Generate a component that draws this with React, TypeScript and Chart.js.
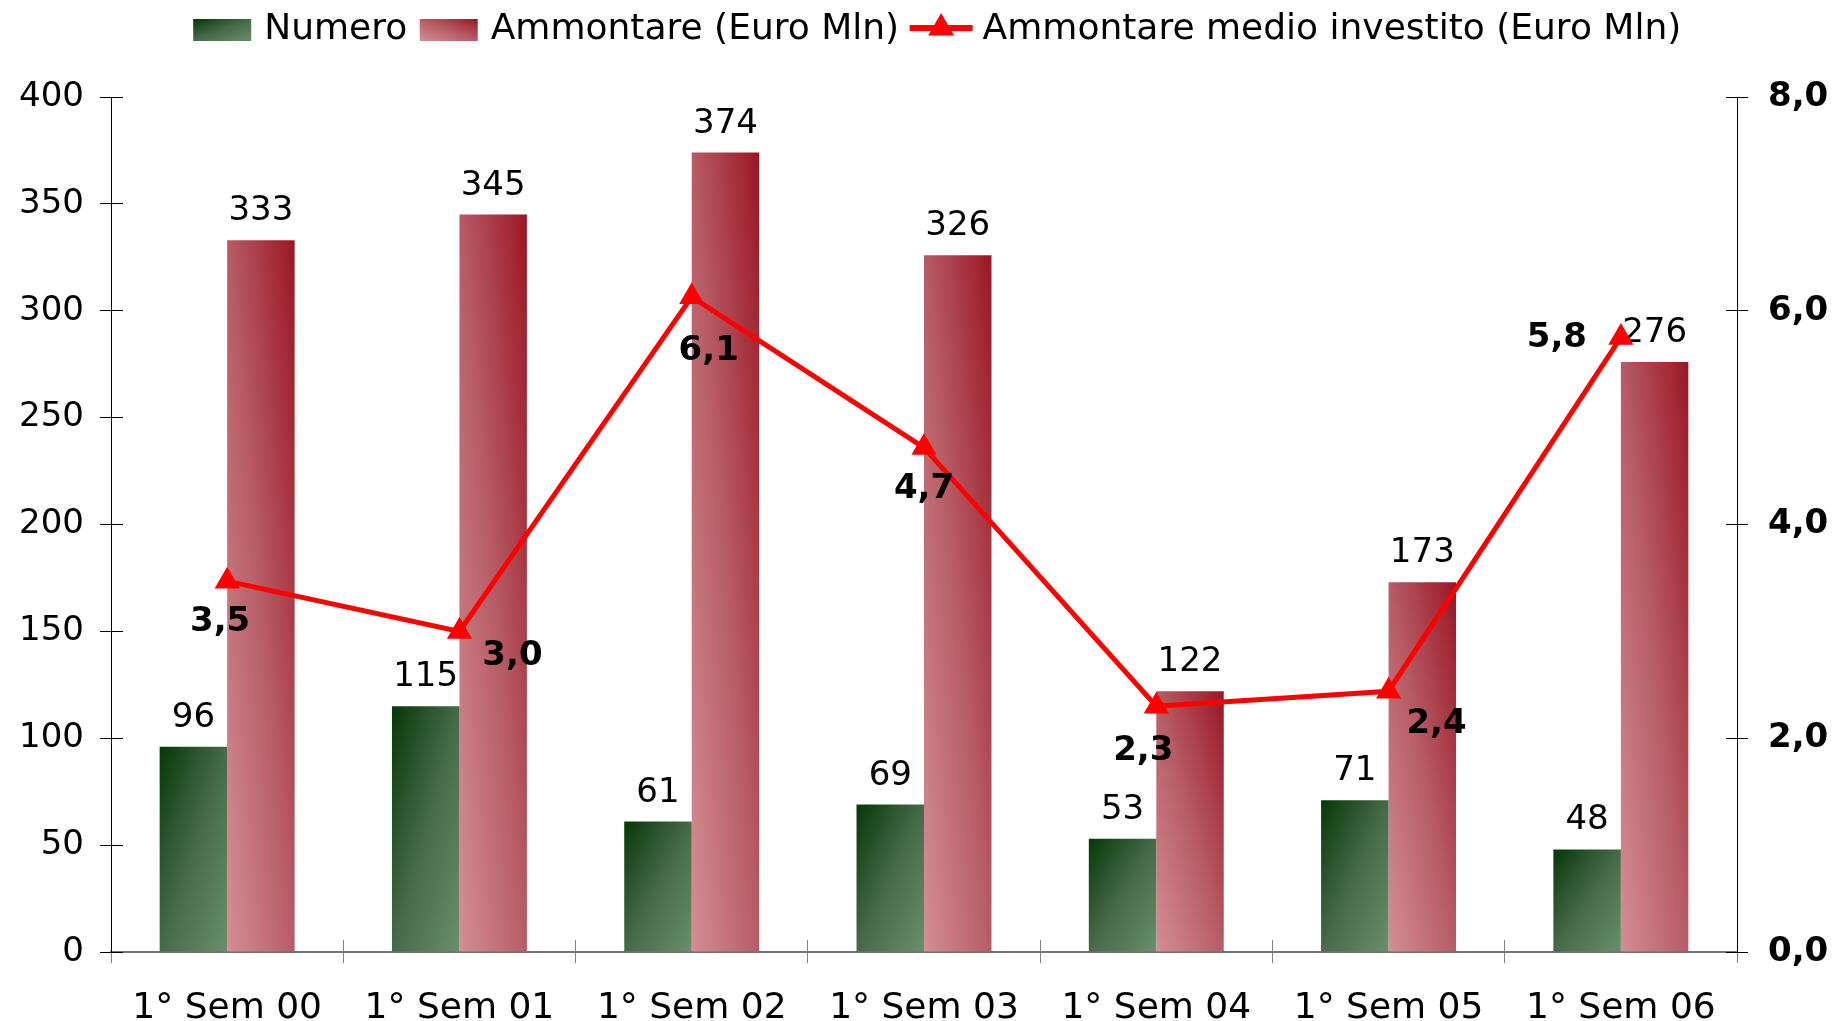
import React, { useEffect, useRef } from 'react';
import { Chart, registerables } from 'chart.js';

Chart.register(...registerables);

// ---------------- data ----------------
const categories = ['1° Sem 00', '1° Sem 01', '1° Sem 02', '1° Sem 03', '1° Sem 04', '1° Sem 05', '1° Sem 06'];
const numero = [96, 115, 61, 69, 53, 71, 48];
const ammontare = [333, 345, 374, 326, 122, 173, 276];
const ammontareMedio = [3.47, 3.0, 6.13, 4.72, 2.3, 2.44, 5.75];
const seriesNames = ['Numero', 'Ammontare (Euro Mln)', 'Ammontare medio investito (Euro Mln)'];
const leftAxisRange = [0, 400, 50];
const rightAxisRange = [0, 8, 2];

// ---------------- styles ----------------
const FONT = 'DejaVu Sans';
const GREEN_STOPS = ['#063808', '#476a48', '#6a8f6a'];
const RED_STOPS = ['#9a1724', '#b75c65', '#d48e94'];
const LINE_RED = '#ff0000';
const CAT_PCT = 0.581;
const LEGEND_FONT = 36;
const LEGEND_BOXW = 53.5;
const MEDIO_LABEL_OFFSETS = [[-7, 41], [53, 25], [17, 54], [0, 42], [-13, 45], [48, 33], [-64, 1]];

const fmt = (v: number) => Number(v).toFixed(1).replace('.', ',');

function diagGradient(c: CanvasRenderingContext2D, L: number, T: number, W: number, H: number, stops: string[], flip: boolean) {
  const d = W * W + H * H;
  const dx = (2 * W * H * H) / d;
  const dy = (2 * W * W * H) / d;
  const g = flip
    ? c.createLinearGradient(L + W, T, L + W - dx, T + dy)
    : c.createLinearGradient(L, T, L + dx, T + dy);
  stops.forEach((s, i) => g.addColorStop(i / (stops.length - 1), s));
  return g;
}

function barFill(ctx: any, side: number) {
  const stops = side === 0 ? GREEN_STOPS : RED_STOPS;
  const chart = ctx.chart;
  const xs = chart.scales && chart.scales.x;
  const ys = chart.scales && chart.scales.y;
  if (!xs || !ys || ctx.dataIndex == null) return stops[1];
  const v = ctx.dataset.data[ctx.dataIndex];
  const center = xs.getPixelForValue(ctx.dataIndex);
  const bw = (xs.width / categories.length) * CAT_PCT / 2;
  const L = side === 0 ? center - bw : center;
  const T = ys.getPixelForValue(v);
  const B = ys.getPixelForValue(0);
  if (![center, bw, T, B].every(Number.isFinite) || B - T <= 0 || bw <= 0) return stops[1];
  return diagGradient(chart.ctx, L, T, bw, B - T, stops, side === 1);
}

const align = (p: number) => Math.round(p - 0.5) + 0.5;

const decorPlugin = {
  id: 'decor',
  afterDatasetDraw(chart: any, args: any) {
    const meta = args.meta;
    if (meta.type !== 'bar') return;
    const data = chart.data.datasets[args.index].data;
    const c = chart.ctx;
    c.save();
    c.font = `34px "${FONT}"`;
    c.fillStyle = '#000';
    c.textAlign = 'center';
    c.textBaseline = 'alphabetic';
    meta.data.forEach((el: any, i: number) => c.fillText(String(data[i]), el.x, el.y - 20));
    c.restore();
  },
  afterDatasetsDraw(chart: any) {
    const meta = chart.getDatasetMeta(2);
    const c = chart.ctx;
    c.save();
    c.font = `bold 34px "${FONT}"`;
    c.fillStyle = '#000';
    c.textAlign = 'center';
    c.textBaseline = 'middle';
    meta.data.forEach((el: any, i: number) => {
      const off = MEDIO_LABEL_OFFSETS[i] || [0, 36];
      c.fillText(fmt(ammontareMedio[i]), el.x + off[0], el.y + off[1]);
    });
    c.restore();
  },
  afterDraw(chart: any) {
    const c = chart.ctx;
    const { x, y, y1 } = chart.scales;
    c.save();
    // inner tick parts
    c.lineWidth = 1;
    c.strokeStyle = '#000';
    y.ticks.forEach((_t: any, i: number) => {
      const py = align(y.getPixelForTick(i));
      c.beginPath(); c.moveTo(y.right, py); c.lineTo(y.right + 12, py); c.stroke();
    });
    y1.ticks.forEach((_t: any, i: number) => {
      const py = align(y1.getPixelForTick(i));
      c.beginPath(); c.moveTo(y1.left - 11, py); c.lineTo(y1.left, py); c.stroke();
    });
    c.strokeStyle = '#808080';
    const n = categories.length;
    for (let i = 1; i < n; i++) {
      const px = align(x.left + (i * x.width) / n);
      c.beginPath(); c.moveTo(px, x.top - 12); c.lineTo(px, x.top); c.stroke();
    }
    // legend swatches
    const lg = chart.legend;
    if (lg && lg.legendHitBoxes) {
      lg.legendHitBoxes.forEach((hb: any, i: number) => {
        const textX = hb.left + LEGEND_BOXW + LEGEND_FONT / 2;
        const cy = hb.top + hb.height / 2;
        if (i < 2) {
          const L = textX - 71, W = 58, H = 22, T = cy - 11;
          c.fillStyle = diagGradient(c, L, T, W, H, i === 0 ? GREEN_STOPS : RED_STOPS, i === 1);
          c.fillRect(L, T, W, H);
        } else {
          c.strokeStyle = LINE_RED;
          c.lineWidth = 6;
          c.beginPath(); c.moveTo(textX - 73, cy - 2); c.lineTo(textX - 10, cy - 2); c.stroke();
          const mx = textX - 41.5, r = 15;
          c.fillStyle = LINE_RED;
          c.beginPath();
          c.moveTo(mx, cy - 2 - r);
          c.lineTo(mx + r * 0.866, cy - 2 + r * 0.5);
          c.lineTo(mx - r * 0.866, cy - 2 + r * 0.5);
          c.closePath();
          c.fill();
        }
      });
    }
    c.restore();
  },
};

export default function App() {
  const ref = useRef<HTMLCanvasElement>(null);
  useEffect(() => {
    document.body.style.margin = '0';
    document.body.style.overflow = 'hidden';
    Chart.defaults.font.family = FONT;
    Chart.defaults.color = '#000';
    const chart = new Chart(ref.current as HTMLCanvasElement, {
      type: 'bar',
      data: {
        labels: categories,
        datasets: [
          {
            type: 'bar',
            label: seriesNames[0],
            data: numero,
            yAxisID: 'y',
            backgroundColor: (ctx: any) => barFill(ctx, 0),
            borderWidth: 0,
            categoryPercentage: CAT_PCT,
            barPercentage: 1,
            order: 1,
          },
          {
            type: 'bar',
            label: seriesNames[1],
            data: ammontare,
            yAxisID: 'y',
            backgroundColor: (ctx: any) => barFill(ctx, 1),
            borderWidth: 0,
            categoryPercentage: CAT_PCT,
            barPercentage: 1,
            order: 1,
          },
          {
            type: 'line',
            label: seriesNames[2],
            data: ammontareMedio,
            yAxisID: 'y1',
            borderColor: LINE_RED,
            backgroundColor: LINE_RED,
            borderWidth: 5,
            pointStyle: 'triangle',
            pointRadius: 13,
            pointHoverRadius: 13,
            pointBorderWidth: 1.5,
            pointBackgroundColor: LINE_RED,
            pointBorderColor: LINE_RED,
            tension: 0,
            fill: false,
            order: 0,
          },
        ] as any,
      },
      options: {
        responsive: false,
        animation: false,
        events: [],
        layout: { padding: { left: 17, top: 0, right: -21, bottom: 0 } },
        plugins: {
          tooltip: { enabled: false },
          title: {
            display: true,
            text: '',
            position: 'top',
            weight: 10,
            font: { size: 1, lineHeight: 1 },
            padding: { top: 0, bottom: 38 },
          },
          legend: {
            position: 'top',
            labels: {
              font: { family: FONT, size: LEGEND_FONT },
              color: '#000',
              boxWidth: LEGEND_BOXW,
              boxHeight: 22,
              padding: 12,
              generateLabels: () =>
                seriesNames.map((t, i) => ({
                  text: t,
                  fillStyle: 'rgba(0,0,0,0)',
                  strokeStyle: 'rgba(0,0,0,0)',
                  lineWidth: 0,
                  hidden: false,
                  datasetIndex: i,
                  fontColor: '#000',
                })),
            },
          },
        },
        scales: {
          x: {
            type: 'category',
            offset: true,
            grid: { offset: true, drawOnChartArea: false, drawTicks: true, tickLength: 11, color: '#808080', lineWidth: 1 },
            border: { display: true, color: 'rgba(0,0,0,0.55)', width: 2 },
            ticks: { font: { family: FONT, size: 36 }, color: '#000', padding: 24, maxRotation: 0, autoSkip: false },
            afterFit: (s: any) => { s.height = 69; },
          },
          y: {
            position: 'left',
            min: leftAxisRange[0],
            max: leftAxisRange[1],
            ticks: { stepSize: leftAxisRange[2], font: { family: FONT, size: 34 }, color: '#000', padding: 16 },
            grid: { drawOnChartArea: false, tickLength: 11, color: '#000', lineWidth: 1 },
            border: { display: true, color: '#000', width: 1 },
            afterFit: (s: any) => { s.width = 94; },
          },
          y1: {
            position: 'right',
            min: rightAxisRange[0],
            max: rightAxisRange[1],
            ticks: { stepSize: rightAxisRange[2], callback: (v: any) => fmt(v), font: { family: FONT, size: 34, weight: 'bold' }, color: '#000', padding: 20 },
            grid: { drawOnChartArea: false, tickLength: 11, color: '#000', lineWidth: 1 },
            border: { display: true, color: '#000', width: 1 },
            afterFit: (s: any) => { s.width = 120; },
          },
        } as any,
      },
      plugins: [decorPlugin],
    } as any);
    return () => chart.destroy();
  }, []);
  return (
    <div style={{ width: 1836, height: 1021 }}>
      <canvas ref={ref} width={1836} height={1021} style={{ display: 'block' }} />
    </div>
  );
}
